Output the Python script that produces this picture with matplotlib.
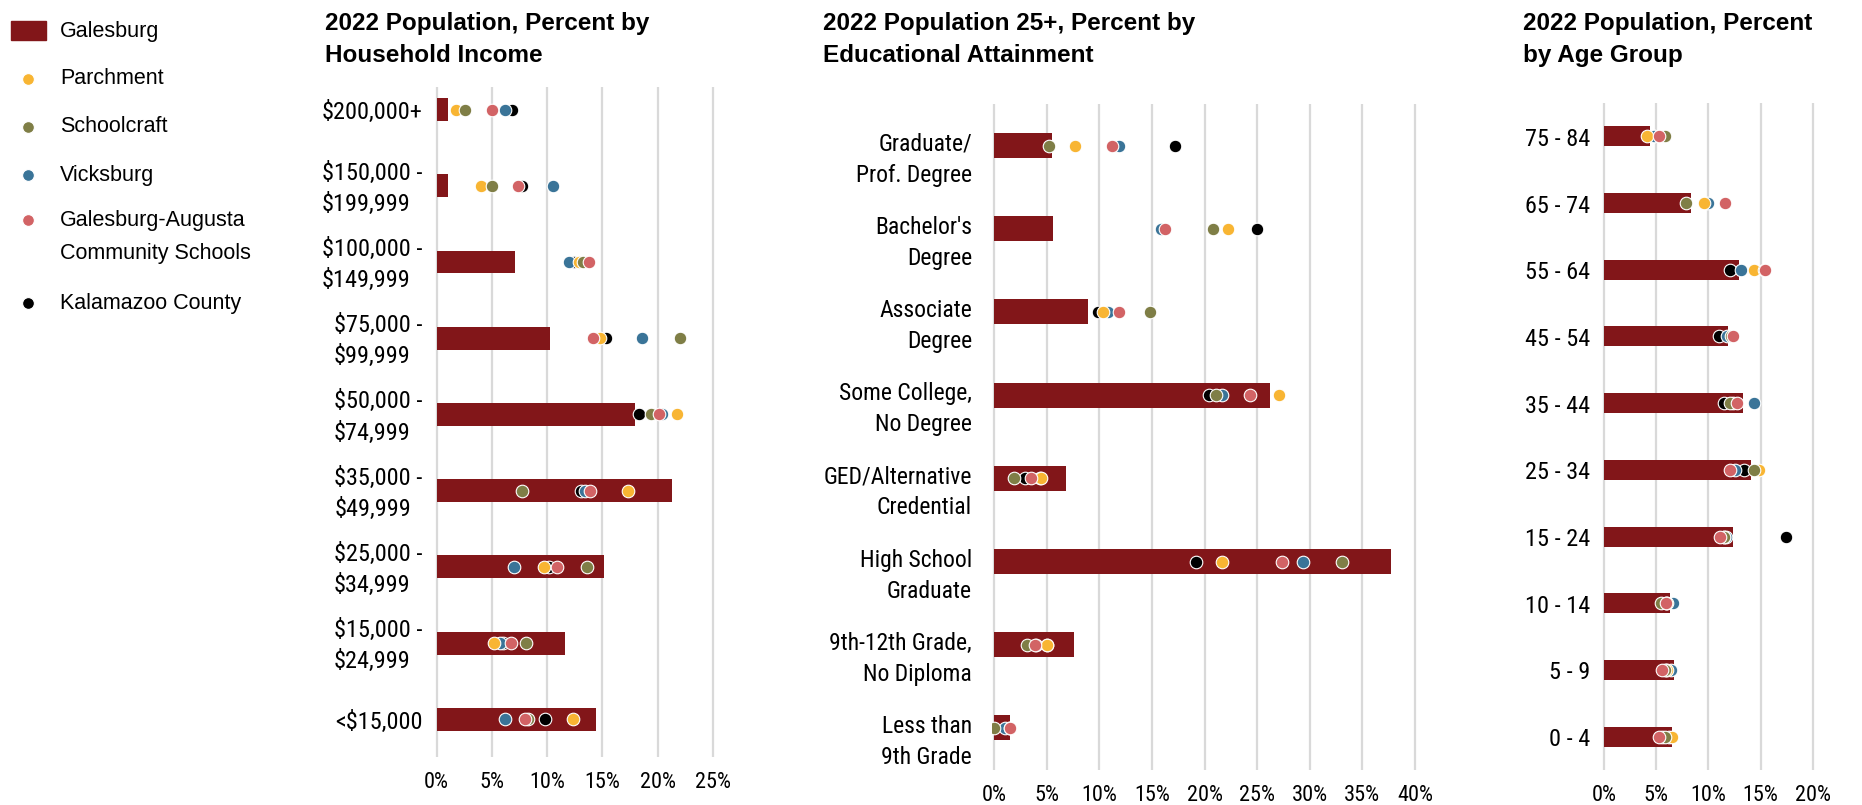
import matplotlib
matplotlib.use('Agg')
import matplotlib.pyplot as plt
import matplotlib.transforms as mtransforms
from matplotlib.patches import Rectangle

REGULAR = ['Liberation Sans', 'DejaVu Sans']
NARROW = ['Liberation Sans Narrow', 'Arial Narrow', 'Roboto Condensed',
          'Archivo Narrow', 'Liberation Sans']

# ---- data -------------------------------------------------------------
colors = {
    'Galesburg': '#821619',
    'Parchment': '#F8B533',
    'Schoolcraft': '#7F7E46',
    'Vicksburg': '#3A7498',
    'Galesburg-Augusta\nCommunity Schools': '#D26365',
    'Kalamazoo County': '#000000',
}

income_cats = ['$200,000+', '$150,000 -\n$199,999', '$100,000 -\n$149,999',
               '$75,000 -\n$99,999', '$50,000 -\n$74,999', '$35,000 -\n$49,999',
               '$25,000 -\n$34,999', '$15,000 -\n$24,999', '<$15,000']
income_galesburg = [1.0, 1.0, 7.05, 10.25, 17.95, 21.3, 15.1, 11.65, 14.45]
income_parchment = [1.75, 4.0, 12.9, 14.8, 21.7, 17.3, 9.7, 5.2, 12.35]
income_schoolcraft = [2.6, 5.0, 13.25, 22.0, 19.4, 7.7, 13.6, 8.1, 8.3]
income_vicksburg = [6.2, 10.5, 12.0, 18.6, 20.4, 13.4, 7.0, 5.7, 6.2]
income_gacs = [5.0, 7.4, 13.8, 14.1, 20.1, 13.9, 10.9, 6.7, 8.0]
income_kalamazoo = [6.8, 7.7, 12.4, 15.3, 18.3, 13.1, 10.2, 6.0, 9.8]

edu_cats = ['Graduate/\nProf. Degree', "Bachelor's\nDegree", 'Associate\nDegree',
            'Some College,\nNo Degree', 'GED/Alternative\nCredential',
            'High School\nGraduate', '9th-12th Grade,\nNo Diploma',
            'Less than\n9th Grade']
edu_galesburg = [5.5, 5.6, 8.9, 26.25, 6.8, 37.75, 7.6, 1.55]
edu_parchment = [7.7, 22.2, 10.4, 27.05, 4.5, 21.7, 5.0, 1.5]
edu_schoolcraft = [5.2, 20.8, 14.8, 21.1, 1.9, 33.1, 3.1, 0.0]
edu_vicksburg = [11.85, 15.85, 10.8, 21.7, 4.4, 29.4, 5.0, 1.0]
edu_gacs = [11.2, 16.2, 11.9, 24.3, 3.55, 27.4, 3.9, 1.55]
edu_kalamazoo = [17.2, 25.0, 9.9, 20.4, 2.95, 19.15, 4.0, 1.4]

age_cats = ['75 - 84', '65 - 74', '55 - 64', '45 - 54', '35 - 44',
            '25 - 34', '15 - 24', '10 - 14', '5 - 9', '0 - 4']
age_galesburg = [4.45, 8.3, 12.95, 11.9, 13.35, 14.1, 12.35, 6.35, 6.75, 6.5]
age_parchment = [4.1, 9.6, 14.4, 12.3, 12.4, 14.9, 11.5, 6.0, 6.0, 6.5]
age_schoolcraft = [5.8, 7.9, 15.3, 12.2, 12.1, 14.4, 11.5, 5.45, 5.8, 5.8]
age_vicksburg = [4.8, 10.0, 13.1, 11.8, 14.4, 12.6, 11.7, 6.6, 6.45, 6.2]
age_gacs = [5.3, 11.55, 15.4, 12.4, 12.7, 12.1, 11.1, 5.95, 5.57, 5.25]
age_kalamazoo = [4.8, 9.8, 12.1, 11.05, 11.5, 13.4, 17.45, 5.9, 5.9, 5.6]

W, H = 1862, 805
fig = plt.figure(figsize=(W / 100, H / 100), dpi=100)


def make_axes(x_zero, x_max, xmax, y_top, y_bot):
    """ axes placed in pixel coords; x_zero/x_max are the 0 and xmax gridlines """
    per = (x_max - x_zero) / xmax
    pad = 0.2
    x0 = x_zero - pad * per
    x1 = x_max + pad * per
    ax = fig.add_axes([x0 / W, 1 - y_bot / H, (x1 - x0) / W, (y_bot - y_top) / H])
    ax.set_xlim(-pad, xmax + pad)
    return ax


def draw_panel(ax, cats, bars, dots, xmax, ylim, label_gap, label_mode, label_size):
    y = list(range(len(cats)))
    ax.barh(y, bars, height=0.3, color=colors['Galesburg'], zorder=2)
    # draw order: county at the bottom, district on top
    for name in ['Kalamazoo County', 'Vicksburg', 'Parchment', 'Schoolcraft',
                 'Galesburg-Augusta\nCommunity Schools']:
        ax.scatter(dots[name], y, s=82, color=colors[name], edgecolor='white',
                   linewidth=0.8, zorder=3)
    ax.set_ylim(*ylim)
    ax.set_xticks(range(0, xmax + 1, 5))
    ax.set_xticklabels([f'{v}%' for v in range(0, xmax + 1, 5)],
                       family=NARROW, fontsize=16)
    ax.tick_params(axis='x', length=0, pad=11)
    ax.set_yticks([])
    ax.grid(axis='x', color='#d9d9d9', linewidth=1.6, zorder=0)
    ax.set_axisbelow(True)
    for s in ax.spines.values():
        s.set_visible(False)

    base = mtransforms.blended_transform_factory(ax.transAxes, ax.transData)
    for yi, lab in zip(y, cats):
        if label_mode == 'top':
            off = mtransforms.ScaledTranslation(-label_gap / 100, 13 / 100, fig.dpi_scale_trans)
            ax.text(0, yi, lab, transform=base + off, ha='right', va='top',
                    multialignment='right', family=NARROW, fontsize=label_size,
                    linespacing=1.45)
        else:
            off = mtransforms.ScaledTranslation(-label_gap / 100, -3 / 100, fig.dpi_scale_trans)
            ax.text(0, yi, lab, transform=base + off, ha='right', va='center',
                    multialignment='left', family=NARROW, fontsize=label_size,
                    linespacing=1.45)


# ---- income -----------------------------------------------------------
ax1 = make_axes(436.7, 713.0, 25, 86.7, 756.7)
draw_panel(ax1, income_cats, income_galesburg,
           {'Parchment': income_parchment, 'Schoolcraft': income_schoolcraft,
            'Vicksburg': income_vicksburg,
            'Galesburg-Augusta\nCommunity Schools': income_gacs,
            'Kalamazoo County': income_kalamazoo},
           25, (8.49, -0.3), 12, 'center', 17.5)

# ---- education --------------------------------------------------------
ax2 = make_axes(994.0, 1415.0, 40, 104, 769.5)
draw_panel(ax2, edu_cats, edu_galesburg,
           {'Parchment': edu_parchment, 'Schoolcraft': edu_schoolcraft,
            'Vicksburg': edu_vicksburg,
            'Galesburg-Augusta\nCommunity Schools': edu_gacs,
            'Kalamazoo County': edu_kalamazoo},
           40, (7.5, -0.5), 20, 'top', 17)

# ---- age --------------------------------------------------------------
ax3 = make_axes(1604.0, 1812.7, 20, 103, 770)
draw_panel(ax3, age_cats, age_galesburg,
           {'Parchment': age_parchment, 'Schoolcraft': age_schoolcraft,
            'Vicksburg': age_vicksburg,
            'Galesburg-Augusta\nCommunity Schools': age_gacs,
            'Kalamazoo County': age_kalamazoo},
           20, (9.5, -0.5), 12, 'center', 17.5)

# ---- titles -----------------------------------------------------------
titles = ['2022 Population, Percent by\nHousehold Income',
          '2022 Population 25+, Percent by\nEducational Attainment',
          '2022 Population, Percent\nby Age Group']
for tx, t in zip([325, 823, 1523], titles):
    fig.text(tx / W, 1 - 12 / H, t, ha='left', va='top', fontsize=17.5,
             fontweight='bold', family=REGULAR, linespacing=1.5)

# ---- legend -----------------------------------------------------------
lg = fig.add_axes([0, 1 - 340 / H, 300 / W, 340 / H])
lg.set_xlim(0, 300)
lg.set_ylim(340, 0)
lg.axis('off')
lg.add_patch(Rectangle((11, 21), 35, 19, color=colors['Galesburg']))
lg.text(60, 31, 'Galesburg', va='center', ha='left', fontsize=15.5, family=REGULAR)
rows = [('Parchment', 79), ('Schoolcraft', 127), ('Vicksburg', 175),
        ('Galesburg-Augusta\nCommunity Schools', 220), ('Kalamazoo County', 303)]
for name, yy in rows:
    lg.scatter([28], [yy], s=72, color=colors[name], edgecolor='white', linewidth=0.8)
    for k, line in enumerate(name.split('\n')):
        lg.text(60, yy + 33 * k, line, va='center', ha='left', fontsize=15.5, family=REGULAR)

fig.savefig('out.png', dpi=100)
